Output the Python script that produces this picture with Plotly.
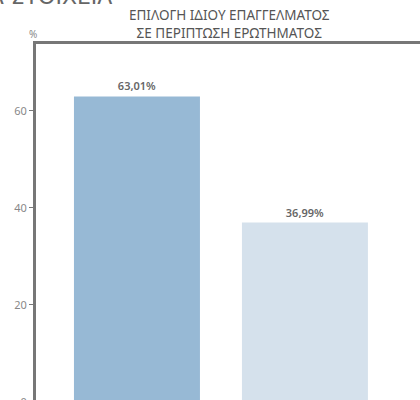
import plotly.graph_objects as go

categories = ["ΝΑΙ", "ΟΧΙ"]
values = [63.01, 36.99]
bar_colors = ["#97b9d5", "#d5e1ec"]

title_text = "ΔΗΜΟΓΡΑΦΙΚΑ ΣΤΟΙΧΕΙΑ"
subtitle_text = "ΕΠΙΛΟΓΗ ΙΔΙΟΥ ΕΠΑΓΓΕΛΜΑΤΟΣ<br>ΣΕ ΠΕΡΙΠΤΩΣΗ ΕΡΩΤΗΜΑΤΟΣ"
y_ticks = [0, 20, 40, 60]

FONT = "Noto Sans, sans-serif"

fig = go.Figure(
    go.Bar(
        x=categories,
        y=values,
        marker=dict(color=bar_colors, line=dict(width=0)),
        texttemplate="%{y:.2f}%",
        textposition="outside",
        textfont=dict(family=FONT, size=11, color="#666666", weight=600),
        cliponaxis=False,
        showlegend=False,
    )
)

# the chart is a crop of a larger one: the frame and the bars run off the
# right and bottom edges, the page title is cut at the top-left
H = 410
PLOT_H = H - 44
fig.update_layout(
    width=420,
    height=H,
    paper_bgcolor="white",
    plot_bgcolor="white",
    separators=",.",
    bargap=0.25,
    margin=dict(l=36, r=0, t=44, b=0),
    font=dict(family=FONT, color="#666666"),
    xaxis=dict(
        side="top",
        range=[-0.601, 1.685],
        showline=True,
        linecolor="#777777",
        linewidth=3,
        showticklabels=False,
        ticks="",
        showgrid=False,
        zeroline=False,
    ),
    yaxis=dict(
        range=[-1.65, 73.81],
        tickvals=y_ticks,
        showline=True,
        linecolor="#777777",
        linewidth=3,
        ticks="outside",
        ticklen=4,
        tickwidth=1,
        tickcolor="#777777",
        tickfont=dict(family=FONT, size=11, color="#888888"),
        showgrid=False,
        zeroline=False,
    ),
    annotations=[
        dict(
            text=title_text, xref="paper", yref="paper",
            x=(114 - 36) / 384, y=(H - 11) / PLOT_H,
            xanchor="right", yanchor="bottom", showarrow=False,
            font=dict(family="DejaVu Sans, sans-serif", size=22, color="#666666"),
        ),
        dict(
            text=subtitle_text, xref="paper", yref="paper",
            x=(229 - 36) / 384, y=(H - 24) / PLOT_H,
            xanchor="center", yanchor="middle", showarrow=False,
            font=dict(family=FONT, size=13.5, color="#555555"),
        ),
        dict(
            text="%", xref="paper", yref="paper",
            x=(33 - 36) / 384, y=(H - 34) / PLOT_H,
            xanchor="center", yanchor="middle", showarrow=False,
            font=dict(family=FONT, size=10, color="#888888"),
        ),
    ],
)

fig.write_html(
    "out.html",
    config={"displayModeBar": False},
    post_script="document.body.style.margin='0';",
)
